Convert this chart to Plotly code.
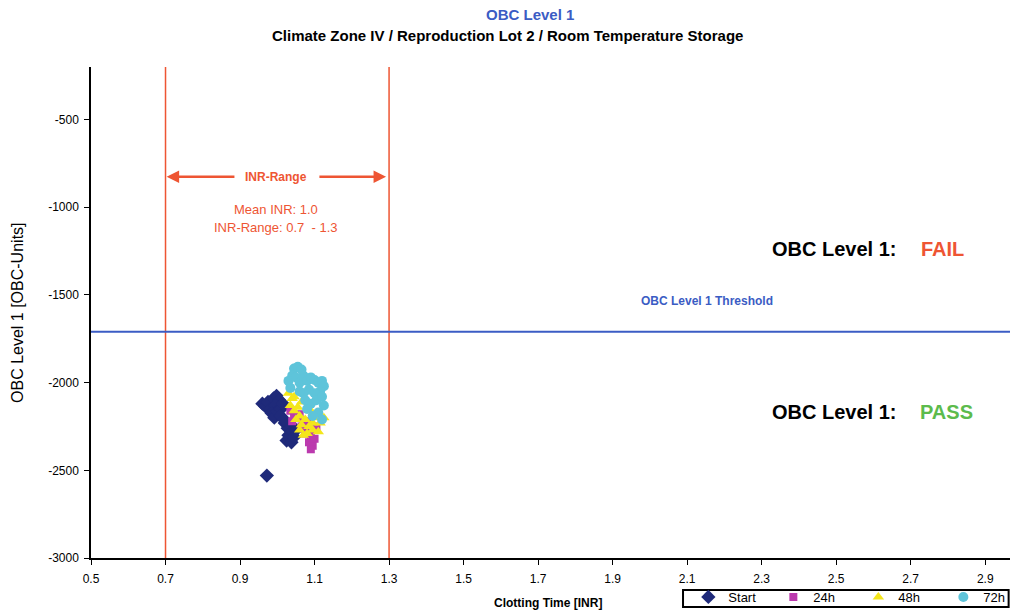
import plotly.graph_objects as go

# ---------------- data ----------------
start_x = [0.960, 0.968, 0.975, 0.982, 0.990, 0.998, 1.005, 0.995, 0.985, 0.992, 1.000, 1.010,
           1.015, 1.008, 1.020, 1.028, 1.035, 1.030, 1.040, 1.025, 1.038, 1.045, 1.050, 1.018, 0.972]
start_y = [-2120, -2135, -2110, -2150, -2090, -2075, -2100, -2130, -2175, -2200, -2165, -2150,
           -2120, -2190, -2230, -2260, -2240, -2300, -2280, -2330, -2340, -2310, -2270, -2210, -2530]

h24_x = [1.035, 1.045, 1.040, 1.055, 1.070, 1.080, 1.090, 1.085, 1.095, 1.090, 1.100, 1.075,
         1.065, 1.105, 1.085, 1.060]
h24_y = [-2160, -2190, -2220, -2200, -2230, -2260, -2300, -2340, -2360, -2380, -2320, -2290,
         -2250, -2250, -2220, -2180]

h48_x = [1.030, 1.040, 1.035, 1.045, 1.055, 1.060, 1.050, 1.065, 1.075, 1.085, 1.095, 1.105,
         1.115, 1.125, 1.080, 1.070, 1.095, 1.110, 1.060, 1.045, 1.065, 1.090]
h48_y = [-2060, -2090, -2130, -2160, -2140, -2190, -2210, -2240, -2210, -2250, -2230, -2200,
         -2230, -2200, -2290, -2300, -2270, -2280, -2270, -2080, -2110, -2160]

h72_x = [1.045, 1.055, 1.065, 1.040, 1.030, 1.035, 1.050, 1.060, 1.070, 1.080, 1.090, 1.100,
         1.110, 1.120, 1.125, 1.115, 1.100, 1.085, 1.070, 1.060, 1.075, 1.090, 1.105, 1.120,
         1.125, 1.110, 1.095, 1.120, 1.080]
h72_y = [-1920, -1910, -1925, -1960, -1990, -2030, -1970, -2000, -1960, -1990, -1970, -1985,
         -2000, -1990, -2020, -2050, -2060, -2040, -2060, -2050, -2100, -2120, -2100, -2080,
         -2130, -2170, -2190, -2210, -2150]

inr_low, inr_high, inr_mean = 0.7, 1.3, 1.0
threshold = -1710
x_ticks = [0.5, 0.7, 0.9, 1.1, 1.3, 1.5, 1.7, 1.9, 2.1, 2.3, 2.5, 2.7, 2.9]
y_ticks = [-500, -1000, -1500, -2000, -2500, -3000]
y_tick_text = ["-500", "-1000", "-1500", "-2000", "-2500", "-3000"]

FONT = "Liberation Sans, Arial, sans-serif"
RED = "#EE5533"
BLUE = "#3B5CC4"
GREEN = "#5CBB4C"

fig = go.Figure()
fig.add_trace(go.Scatter(x=start_x, y=start_y, mode="markers", name="Start",
                         marker=dict(symbol="diamond", size=11, color="#1F2A7A")))
fig.add_trace(go.Scatter(x=h24_x, y=h24_y, mode="markers", name="24h",
                         marker=dict(symbol="square", size=8, color="#BB3AAE")))
fig.add_trace(go.Scatter(x=h48_x, y=h48_y, mode="markers", name="48h",
                         marker=dict(symbol="triangle-up", size=10, color="#F4E61A")))
fig.add_trace(go.Scatter(x=h72_x, y=h72_y, mode="markers", name="72h",
                         marker=dict(symbol="circle", size=10, color="#5EC4DA")))

shapes = [
    dict(type="line", xref="x", yref="paper", x0=inr_low, x1=inr_low, y0=0, y1=1,
         line=dict(color=RED, width=1.5), layer="below"),
    dict(type="line", xref="x", yref="paper", x0=inr_high, x1=inr_high, y0=0, y1=1,
         line=dict(color=RED, width=1.5), layer="below"),
    dict(type="line", xref="paper", yref="y", x0=0, x1=1, y0=threshold, y1=threshold,
         line=dict(color=BLUE, width=2), layer="below"),
    # legend frame
    dict(type="rect", xref="paper", yref="paper", x0=0.6442, x1=0.9985, y0=-0.0652, y1=-0.0998,
         line=dict(color="black", width=2), fillcolor="rgba(0,0,0,0)"),
]

ann = []
# arrows
ann.append(dict(x=0.703, y=-826, ax=0.889, ay=-826, xref="x", yref="y", axref="x", ayref="y",
                text="", showarrow=True, arrowhead=2, arrowsize=1, arrowwidth=2.5, arrowcolor=RED))
ann.append(dict(x=1.292, y=-826, ax=1.109, ay=-826, xref="x", yref="y", axref="x", ayref="y",
                text="", showarrow=True, arrowhead=2, arrowsize=1, arrowwidth=2.5, arrowcolor=RED))
ann.append(dict(x=0.997, y=-826, xref="x", yref="y", text="<b>INR-Range</b>", showarrow=False,
                yanchor="middle", font=dict(family=FONT, size=12, color=RED)))
ann.append(dict(x=0.997, y=-1015, xref="x", yref="y", text="Mean INR: 1.0", showarrow=False,
                yanchor="middle", font=dict(family=FONT, size=13, color=RED)))
ann.append(dict(x=0.997, y=-1118, xref="x", yref="y", text="INR-Range: 0.7  - 1.3", showarrow=False,
                yanchor="middle", font=dict(family=FONT, size=13, color=RED)))
ann.append(dict(x=2.153, y=-1535, xref="x", yref="y", text="<b>OBC Level 1 Threshold</b>",
                yanchor="middle", showarrow=False, font=dict(family=FONT, size=12, color=BLUE)))
ann.append(dict(x=2.494, y=-1238, xref="x", yref="y", text="<b>OBC Level 1:</b>", showarrow=False,
                yanchor="middle", font=dict(family=FONT, size=20, color="black")))
ann.append(dict(x=2.784, y=-1238, xref="x", yref="y", text="<b>FAIL</b>", showarrow=False,
                yanchor="middle", font=dict(family=FONT, size=20, color=RED)))
ann.append(dict(x=2.494, y=-2165, xref="x", yref="y", text="<b>OBC Level 1:</b>", showarrow=False,
                yanchor="middle", font=dict(family=FONT, size=20, color="black")))
ann.append(dict(x=2.795, y=-2165, xref="x", yref="y", text="<b>PASS</b>", showarrow=False,
                yanchor="middle", font=dict(family=FONT, size=20, color=GREEN)))
# titles
ann.append(dict(x=0.4777, y=1.106, xref="paper", yref="paper", text="<b>OBC Level 1</b>",
                xanchor="center", yanchor="middle",
                showarrow=False, font=dict(family=FONT, size=15, color=BLUE)))
ann.append(dict(x=0.4537, y=1.065, xref="paper", yref="paper",
                text="<b>Climate Zone IV / Reproduction Lot 2 / Room Temperature Storage</b>",
                xanchor="center", yanchor="middle",
                showarrow=False, font=dict(family=FONT, size=15, color="black")))
ann.append(dict(x=0.497, y=-0.092, xref="paper", yref="paper", text="<b>Clotting Time [INR]</b>",
                xanchor="center", yanchor="middle",
                showarrow=False, font=dict(family=FONT, size=12, color="black")))
ann.append(dict(x=-0.080, y=0.5, xref="paper", yref="paper", text="OBC Level 1 [OBC-Units]",
                xanchor="center", yanchor="middle",
                textangle=-90, showarrow=False, font=dict(family=FONT, size=16, color="black")))

fig.update_layout(
    width=1010, height=612,
    margin=dict(l=91, r=0, t=67, b=54, autoexpand=False),
    paper_bgcolor="white", plot_bgcolor="white",
    font=dict(family=FONT, size=12, color="black"),
    shapes=shapes, annotations=ann,
    showlegend=True,
    legend=dict(orientation="h", x=0.650, y=-0.0489, xanchor="left", yanchor="top",
                borderwidth=0, bgcolor="rgba(0,0,0,0)",
                font=dict(family=FONT, size=13, color="black"),
                entrywidth=40, entrywidthmode="pixels",
                tracegroupgap=0),
)
fig.update_xaxes(range=[0.5, 2.9665], tickvals=x_ticks, tickformat=".1f",
                 showline=True, linecolor="black", linewidth=1.5,
                 ticks="outside", ticklen=5, tickcolor="black", showgrid=False, zeroline=False,
                 ticklabelstandoff=4,
                 tickfont=dict(family=FONT, size=12, color="black"))
fig.update_yaxes(range=[-3000, -200], tickvals=y_ticks, ticktext=y_tick_text,
                 showline=True, linecolor="black", linewidth=1.5,
                 ticks="outside", ticklen=5, tickcolor="black", showgrid=False, zeroline=False,
                 ticklabelstandoff=3,
                 tickfont=dict(family=FONT, size=12, color="black"))

fig.write_html("out.html")
